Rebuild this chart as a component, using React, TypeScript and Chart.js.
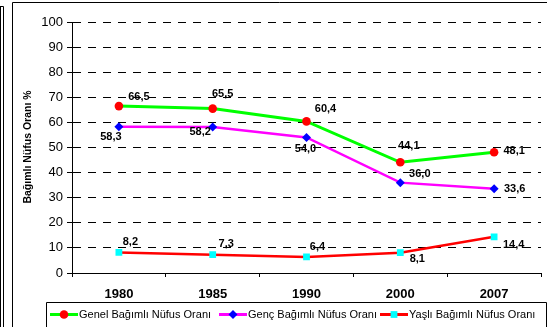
import React, { useEffect, useRef } from "react";
import { Chart, registerables } from "chart.js";

Chart.register(...registerables);

const categories = ["1980", "1985", "1990", "2000", "2007"];
const genelValues = [66.5, 65.5, 60.4, 44.1, 48.1];
const gencValues = [58.3, 58.2, 54.0, 36.0, 33.6];
const yasliValues = [8.2, 7.3, 6.4, 8.1, 14.4];
const seriesNames = [
  "Genel Bağımlı Nüfus Oranı",
  "Genç Bağımlı Nüfus Oranı",
  "Yaşlı Bağımlı Nüfus Oranı",
];
const yAxisTitle = "Bağımlı Nüfus Oranı %";
const yMin = 0;
const yMax = 100;
const yStep = 10;

// label placement offsets (px) relative to each point, per series
const labelOffsets = [
  [[20, -9], [10, -15], [19, -12], [8.5, -16], [20, -1]],
  [[-8, 10], [-12.5, 5.5], [-1, 11.5], [19.5, -9], [20.5, 0]],
  [[11.5, -10], [13.5, -11], [11, -10], [17, 6.5], [19.5, 8.5]],
];

const FONT = "'Liberation Sans', Arial, sans-serif";

function drawMarker(ctx: CanvasRenderingContext2D, style: string, x: number, y: number, r: number, color: string) {
  ctx.save();
  ctx.fillStyle = color;
  ctx.beginPath();
  if (style === "circle") {
    ctx.arc(x, y, r, 0, Math.PI * 2);
  } else if (style === "rectRot") {
    ctx.moveTo(x, y - r);
    ctx.lineTo(x + r, y);
    ctx.lineTo(x, y + r);
    ctx.lineTo(x - r, y);
    ctx.closePath();
  } else {
    const s = r * Math.SQRT1_2;
    ctx.rect(x - s, y - s, 2 * s, 2 * s);
  }
  ctx.fill();
  ctx.restore();
}

const decorPlugin = {
  id: "decor",
  beforeDraw(chart: any) {
    const ctx = chart.ctx as CanvasRenderingContext2D;
    ctx.save();
    ctx.fillStyle = "#fff";
    ctx.fillRect(0, 0, chart.width, chart.height);
    ctx.restore();
  },
  afterDatasetsDraw(chart: any) {
    const ctx = chart.ctx as CanvasRenderingContext2D;
    ctx.save();
    ctx.font = `bold 11px ${FONT}`;
    ctx.fillStyle = "#000";
    ctx.textAlign = "center";
    ctx.textBaseline = "middle";
    chart.data.datasets.forEach((ds: any, i: number) => {
      const meta = chart.getDatasetMeta(i);
      meta.data.forEach((pt: any, j: number) => {
        const v = ds.data[j] as number;
        const txt = v.toFixed(1).replace(".", ",");
        const off = labelOffsets[i][j];
        ctx.fillText(txt, pt.x + off[0], pt.y + off[1]);
      });
    });
    ctx.restore();
  },
  afterDraw(chart: any) {
    const ctx = chart.ctx as CanvasRenderingContext2D;
    const W = chart.width;
    const H = chart.height;
    ctx.save();
    // outer frames
    ctx.strokeStyle = "#000";
    ctx.lineWidth = 1;
    ctx.beginPath();
    ctx.moveTo(0, 6.5);
    ctx.lineTo(3.5, 6.5);
    ctx.lineTo(3.5, H);
    ctx.moveTo(0.5, 6.5);
    ctx.lineTo(0.5, H);
    ctx.moveTo(12.5, H);
    ctx.lineTo(12.5, 2.5);
    ctx.lineTo(W, 2.5);
    ctx.stroke();

    // y axis title
    ctx.save();
    ctx.translate(28, 147);
    ctx.rotate(-Math.PI / 2);
    ctx.font = `bold 10.5px ${FONT}`;
    ctx.fillStyle = "#000";
    ctx.textAlign = "center";
    ctx.textBaseline = "middle";
    ctx.fillText(yAxisTitle, 0, 0);
    ctx.restore();

    // legend
    ctx.beginPath();
    ctx.rect(46.5, 302.5, 500, 40);
    ctx.stroke();
    const itemX = [50, 219, 380];
    const ly = 314.5;
    ctx.font = `11px ${FONT}`;
    ctx.textAlign = "left";
    ctx.textBaseline = "middle";
    chart.data.datasets.forEach((ds: any, i: number) => {
      const x0 = itemX[i];
      ctx.save();
      ctx.strokeStyle = ds.borderColor;
      ctx.lineWidth = 3;
      ctx.beginPath();
      ctx.moveTo(x0, ly);
      ctx.lineTo(x0 + 28, ly);
      ctx.stroke();
      ctx.restore();
      drawMarker(ctx, ds.pointStyle, x0 + 14, ly, ds.pointRadius, ds.pointBackgroundColor);
      ctx.fillStyle = "#000";
      ctx.fillText(ds.label, x0 + 29, ly);
    });
    ctx.restore();
  },
};

export default function App() {
  const canvasRef = useRef<HTMLCanvasElement | null>(null);

  useEffect(() => {
    if (!canvasRef.current) return;
    const chart = new Chart(canvasRef.current, {
      type: "line",
      data: {
        labels: categories,
        datasets: [
          {
            label: seriesNames[0],
            data: genelValues,
            borderColor: "#00FF00",
            borderWidth: 3,
            pointStyle: "circle",
            pointRadius: 4.3,
            pointBackgroundColor: "#FF0000",
            pointBorderWidth: 0,
            tension: 0,
          },
          {
            label: seriesNames[1],
            data: gencValues,
            borderColor: "#FF00FF",
            borderWidth: 2.5,
            pointStyle: "rectRot",
            pointRadius: 4.5,
            pointBackgroundColor: "#0000FF",
            pointBorderWidth: 0,
            tension: 0,
          },
          {
            label: seriesNames[2],
            data: yasliValues,
            borderColor: "#FF0000",
            borderWidth: 2.5,
            pointStyle: "rect",
            pointRadius: 4.8,
            pointBackgroundColor: "#00FFFF",
            pointBorderWidth: 0,
            tension: 0,
          },
        ],
      } as any,
      options: {
        responsive: false,
        animation: false,
        events: [],
        layout: { padding: { top: 22, left: 0, right: 6, bottom: 0 } },
        plugins: {
          legend: { display: false },
          tooltip: { enabled: false },
          title: { display: false },
        },
        scales: {
          x: {
            type: "category",
            offset: true,
            grid: {
              offset: true,
              drawOnChartArea: false,
              drawTicks: true,
              tickLength: 4,
              color: "#000",
            },
            border: { display: true, color: "#000", width: 1 },
            ticks: {
              color: "#000",
              font: { family: FONT, size: 13, weight: "bold" },
              padding: 9.5,
              maxRotation: 0,
              autoSkip: false,
            },
            afterFit: (s: any) => {
              s.height = 54;
            },
          },
          y: {
            min: yMin,
            max: yMax,
            ticks: {
              stepSize: yStep,
              color: "#000",
              font: { family: FONT, size: 13 },
              padding: 4,
            },
            grid: {
              color: "#000",
              lineWidth: 1,
              drawTicks: true,
              tickLength: 5,
              tickColor: "#000",
              tickBorderDash: [],
            },
            border: { display: true, color: "#000", width: 1, dash: [8, 7] },
            afterFit: (s: any) => {
              s.width = 72;
            },
          },
        },
      } as any,
      plugins: [decorPlugin],
    });
    return () => chart.destroy();
  }, []);

  return (
    <div style={{ position: "absolute", left: 0, top: 0, width: 547, height: 327 }}>
      <canvas ref={canvasRef} width={547} height={327} />
    </div>
  );
}
